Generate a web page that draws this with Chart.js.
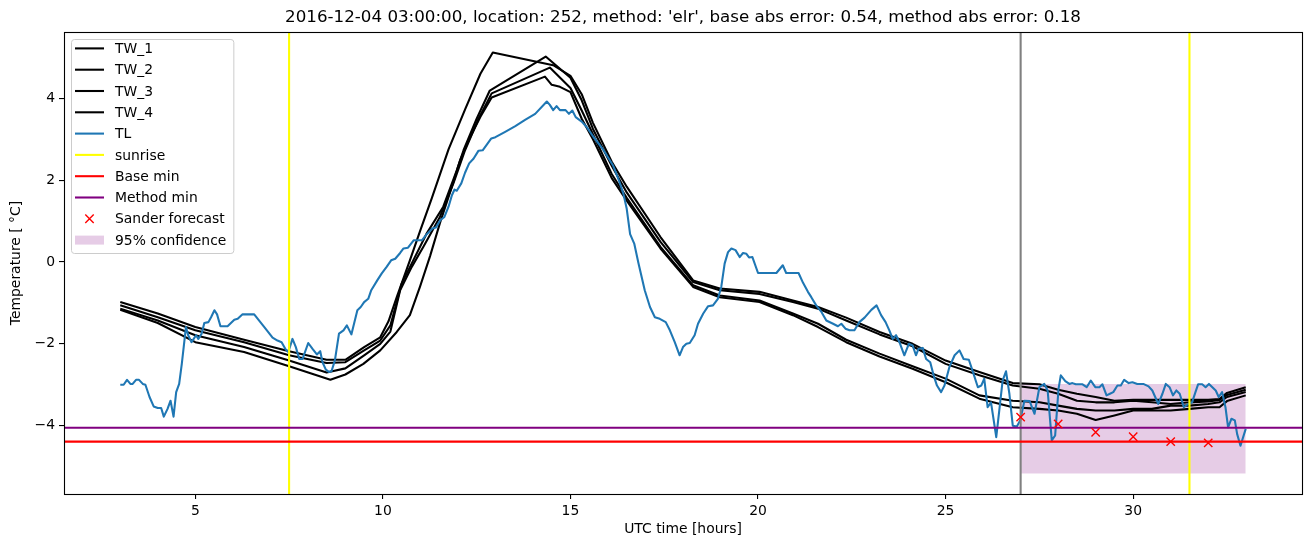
<!DOCTYPE html>
<html>
<head>
<meta charset="utf-8">
<script src="https://cdn.jsdelivr.net/npm/chart.js@4.4.0/dist/chart.umd.min.js"></script>
<style>
body { margin: 0; background: #fff; }
canvas { display: block; }
</style>
</head>
<body>
<canvas id="myChart" width="1313" height="547"></canvas>
<script>
// Axis limits and ticks
const xLimits = [1.5, 34.5];
const yLimits = [-5.67, 5.62];
const xTicks = [5, 10, 15, 20, 25, 30];
const yTicks = [-4, -2, 0, 2, 4];

const titleText = "2016-12-04 03:00:00, location: 252, method: 'elr', base abs error: 0.54, method abs error: 0.18";

// TL (measured temperature)
const tlHours = [
  3.0, 3.09, 3.18, 3.27, 3.33, 3.42, 3.5, 3.6, 3.67, 3.78,
  3.89, 4.0, 4.09, 4.16, 4.26, 4.34, 4.42, 4.49, 4.57, 4.64,
  4.71, 4.75, 4.81, 4.9, 5.02, 5.08, 5.17, 5.24, 5.35, 5.42,
  5.51, 5.58, 5.67, 5.86, 5.95, 6.04, 6.13, 6.26, 6.57, 6.84,
  7.06, 7.19, 7.3, 7.41, 7.48, 7.59, 7.68, 7.77, 7.86, 8.01,
  8.12, 8.24, 8.33, 8.39, 8.48, 8.57, 8.63, 8.72, 8.83, 8.95,
  9.04, 9.16, 9.32, 9.41, 9.5, 9.61, 9.69, 9.85, 9.97, 10.1,
  10.22, 10.33, 10.46, 10.55, 10.67, 10.82, 11.04, 11.17, 11.32, 11.41,
  11.53, 11.64, 11.75, 11.84, 11.91, 11.97, 12.09, 12.19, 12.3, 12.42,
  12.55, 12.66, 12.78, 12.89, 13.0, 13.26, 13.53, 13.79, 14.06, 14.37,
  14.45, 14.54, 14.63, 14.72, 14.87, 14.96, 15.05, 15.14, 15.3, 15.43,
  15.61, 15.87, 16.14, 16.29, 16.41, 16.5, 16.59, 16.7, 16.81, 16.98,
  17.12, 17.25, 17.38, 17.54, 17.65, 17.78, 17.91, 18.0, 18.09, 18.18,
  18.31, 18.4, 18.54, 18.67, 18.8, 18.93, 19.02, 19.11, 19.2, 19.29,
  19.4, 19.51, 19.6, 19.69, 19.76, 19.85, 20.0, 20.49, 20.66, 20.75,
  21.08, 21.2, 21.33, 21.42, 21.55, 21.69, 21.82, 22.0, 22.13, 22.22,
  22.33, 22.44, 22.57, 22.7, 22.84, 23.02, 23.16, 23.28, 23.4, 23.5,
  23.59, 23.68, 23.77, 23.9, 24.02, 24.12, 24.21, 24.28, 24.39, 24.48,
  24.59, 24.68, 24.77, 24.88, 24.97, 25.1, 25.24, 25.37, 25.48, 25.62,
  25.73, 25.86, 25.95, 26.03, 26.12, 26.21, 26.35, 26.43, 26.52, 26.61,
  26.7, 26.79, 26.9, 26.99, 27.1, 27.24, 27.37, 27.5, 27.63, 27.72,
  27.83, 27.92, 28.01, 28.07, 28.19, 28.3, 28.38, 28.47, 28.65, 28.76,
  28.87, 28.99, 29.1, 29.18, 29.29, 29.38, 29.47, 29.58, 29.67, 29.76,
  29.88, 29.98, 30.11, 30.27, 30.41, 30.51, 30.67, 30.78, 30.87, 30.97,
  31.06, 31.15, 31.24, 31.35, 31.47, 31.57, 31.66, 31.73, 31.84, 31.93,
  32.02, 32.2, 32.28, 32.37, 32.46, 32.53, 32.62, 32.71, 32.77, 32.86,
  33.0
];
const tlTemp = [
  -3.0, -3.0, -2.88, -2.98, -2.98, -2.88, -2.88, -2.98, -3.0, -3.3,
  -3.53, -3.57, -3.57, -3.78, -3.59, -3.39, -3.78, -3.18, -2.98, -2.49,
  -1.92, -1.59, -1.79, -1.96, -1.79, -1.88, -1.75, -1.49, -1.47, -1.35,
  -1.18, -1.28, -1.57, -1.57, -1.49, -1.41, -1.39, -1.28, -1.28, -1.59,
  -1.85, -1.92, -1.96, -2.14, -2.2, -1.88, -2.08, -2.37, -2.37, -1.98,
  -2.12, -2.26, -2.18, -2.45, -2.63, -2.69, -2.67, -2.41, -1.75, -1.67,
  -1.55, -1.77, -1.18, -1.1, -0.98, -0.9, -0.69, -0.45, -0.28, -0.12,
  0.04, 0.08, 0.22, 0.33, 0.35, 0.53, 0.53, 0.68, 0.82, 0.84,
  1.02, 1.1, 1.35, 1.63, 1.77, 1.74, 1.92, 2.18, 2.41, 2.53,
  2.72, 2.73, 2.88, 3.02, 3.05, 3.18, 3.32, 3.47, 3.62, 3.92,
  3.84, 3.71, 3.81, 3.71, 3.71, 3.62, 3.7, 3.54, 3.43, 3.3,
  3.06, 2.75, 2.35, 2.0, 1.67, 1.3, 0.68, 0.45, -0.02, -0.69,
  -1.1, -1.35, -1.39, -1.47, -1.67, -1.96, -2.28, -2.08, -2.0, -1.98,
  -1.79, -1.51, -1.26, -1.08, -1.06, -0.9, -0.61, -0.04, 0.24, 0.33,
  0.29, 0.12, 0.22, 0.2, 0.11, 0.12, -0.27, -0.27, -0.08, -0.27,
  -0.27, -0.51, -0.73, -0.86, -1.06, -1.22, -1.43, -1.51, -1.57, -1.51,
  -1.63, -1.67, -1.67, -1.47, -1.36, -1.17, -1.06, -1.3, -1.47, -1.67,
  -1.88, -1.79, -1.96, -2.28, -2.0, -2.04, -2.28, -2.12, -2.1, -2.37,
  -2.45, -2.77, -3.02, -3.18, -3.02, -2.57, -2.28, -2.16, -2.37, -2.39,
  -2.69, -3.06, -3.02, -2.85, -3.55, -3.43, -4.28, -3.63, -2.9, -2.67,
  -3.22, -4.0, -4.02, -3.87, -3.39, -3.4, -3.71, -3.06, -2.98, -3.14,
  -4.36, -4.24, -3.1, -2.77, -2.91, -2.98, -2.96, -2.99, -2.99, -3.06,
  -2.9, -3.06, -3.06, -2.99, -3.26, -3.22, -3.18, -3.02, -3.02, -2.88,
  -2.96, -2.94, -2.98, -2.98, -3.04, -3.14, -3.47, -3.22, -2.98, -3.06,
  -3.26, -3.14, -3.22, -3.55, -3.47, -3.43, -3.18, -2.99, -2.99, -3.06,
  -2.98, -3.14, -3.3, -3.18, -3.55, -4.04, -3.83, -3.87, -4.2, -4.49,
  -4.08
];

// TW_1 .. TW_4 (black model lines)
const tw1Hours = [3, 4, 5, 6.3, 7.5, 8.5, 9.0, 9.5, 9.93, 10.15,
  10.37, 10.72, 11.0, 11.3, 11.75, 12.2, 12.6, 12.93, 14.54, 15.0,
  15.3, 15.6, 16.1, 16.5, 17.4, 18.27, 18.98, 20.04, 20.93, 21.6,
  22.35, 23.24, 24.12, 25.0, 25.9, 26.79, 27.5, 28, 28.5, 29,
  29.5, 30, 30.5, 31, 31.5, 32, 32.3, 32.5, 33];
const tw1Temp = [-0.98, -1.26, -1.59, -1.9, -2.18, -2.39, -2.39, -2.08, -1.84, -1.45,
  -0.86, 0.04, 0.78, 1.55, 2.75, 3.75, 4.6, 5.12, 4.81, 4.55,
  4.1, 3.4, 2.45, 1.84, 0.61, -0.45, -0.65, -0.73, -0.94, -1.1,
  -1.36, -1.71, -2.0, -2.41, -2.69, -2.96, -2.99, -3.12, -3.22, -3.3,
  -3.39, -3.37, -3.37, -3.37, -3.37, -3.37, -3.35, -3.2, -3.06];

const tw2Hours = [3, 4, 5, 6.3, 7.5, 8.5, 9.0, 9.5, 9.93, 10.2,
  10.5, 10.81, 11.17, 11.61, 11.97, 12.15, 12.5, 12.85, 14.34, 15.0,
  15.3, 15.6, 16.1, 16.5, 17.4, 18.27, 18.98, 20.04, 20.93, 21.6,
  22.35, 23.24, 24.12, 25.0, 25.9, 26.79, 27.5, 28, 28.5, 29,
  29.5, 30, 30.5, 31, 31.5, 32, 32.3, 32.5, 33];
const tw2Temp = [-1.06, -1.35, -1.67, -1.96, -2.28, -2.47, -2.45, -2.16, -1.92, -1.55,
  -0.53, 0.04, 0.7, 1.35, 2.24, 2.73, 3.5, 4.19, 5.02, 4.5,
  3.95, 3.25, 2.35, 1.7, 0.49, -0.49, -0.69, -0.78, -0.98, -1.14,
  -1.43, -1.77, -2.06, -2.49, -2.77, -3.02, -3.1, -3.22, -3.39, -3.43,
  -3.43, -3.39, -3.43, -3.47, -3.43, -3.41, -3.37, -3.25, -3.12];

const tw3Hours = [3, 4, 5, 6.3, 7.5, 8.5, 9.0, 9.5, 9.93, 10.2,
  10.46, 10.77, 11.08, 11.52, 11.88, 12.19, 12.55, 12.9, 14.45, 15.0,
  15.3, 15.6, 16.1, 16.5, 17.4, 18.27, 18.98, 20.04, 20.93, 21.6,
  22.35, 23.24, 24.12, 25.0, 25.9, 26.79, 27.5, 28, 28.5, 29,
  29.5, 30, 30.5, 31, 31.5, 32, 32.3, 32.5, 33];
const tw3Temp = [-1.14, -1.43, -1.79, -2.08, -2.41, -2.7, -2.6, -2.28, -2.0, -1.7,
  -0.69, -0.12, 0.37, 1.1, 1.92, 2.73, 3.5, 4.12, 4.75, 4.25,
  3.7, 3.12, 2.15, 1.57, 0.37, -0.57, -0.82, -0.94, -1.26, -1.51,
  -1.9, -2.24, -2.55, -2.85, -3.26, -3.39, -3.43, -3.51, -3.59, -3.63,
  -3.63, -3.59, -3.59, -3.51, -3.51, -3.47, -3.43, -3.3, -3.18];

const tw4Hours = [3, 4, 5, 6.3, 7.5, 8.6, 9.0, 9.48, 9.93, 10.37,
  10.72, 10.99, 11.26, 11.52, 11.79, 12.06, 12.3, 12.6, 12.9, 14.32,
  14.5, 14.72, 15.0, 15.3, 15.6, 16.1, 16.5, 17.4, 18.27, 18.98,
  20.04, 20.93, 21.6, 22.35, 23.24, 24.12, 25.0, 25.9, 26.79, 27.5,
  28, 28.5, 29, 29.5, 30, 30.5, 31, 31.5, 32, 32.3,
  32.5, 33];
const tw4Temp = [-1.17, -1.49, -1.96, -2.2, -2.55, -2.88, -2.75, -2.49, -2.16, -1.71,
  -1.3, -0.6, 0.15, 0.95, 1.7, 2.49, 3.0, 3.55, 4.02, 4.53,
  4.33, 4.28, 4.15, 3.5, 3.0, 2.05, 1.5, 0.33, -0.61, -0.86,
  -0.98, -1.3, -1.59, -1.96, -2.31, -2.61, -2.94, -3.34, -3.55, -3.59,
  -3.63, -3.71, -3.86, -3.75, -3.63, -3.63, -3.63, -3.59, -3.55, -3.55,
  -3.4, -3.26];

// Markers and reference lines
const sunriseHours = [7.5, 31.5];
const forecastStart = 27;
const baseMin = -4.39;
const methodMin = -4.05;
const sanderHours = [27, 28, 29, 30, 31, 32];
const sanderTemp = [-3.79, -3.96, -4.16, -4.27, -4.39, -4.42];
const confHours = [27, 33];
const confUpper = -2.98;
const confLower = -5.17;

const FONT = 'DejaVu Sans';
const LW = 2.08; // 1.5 pt at 100 dpi
Chart.defaults.font.family = FONT;
Chart.defaults.color = '#000';

const pts = (xs, ys) => xs.map((x, i) => ({ x: x, y: ys[i] }));
const vLines = xs => xs.flatMap((x, i) => {
  const seg = [{ x: x, y: yLimits[0] - 1 }, { x: x, y: yLimits[1] + 1 }];
  return i < xs.length - 1 ? seg.concat([{ x: x, y: null }]) : seg;
});
const hLine = y => [{ x: xLimits[0] - 1, y: y }, { x: xLimits[1] + 1, y: y }];

function lineSet(label, data, color, order) {
  return {
    label: label, data: data, borderColor: color, backgroundColor: color,
    borderWidth: LW, pointRadius: 0, pointHoverRadius: 0, fill: false,
    borderJoinStyle: 'round', spanGaps: false, order: order, kind: 'line'
  };
}

const datasets = [
  lineSet('TW_1', pts(tw1Hours, tw1Temp), '#000000', 4),
  lineSet('TW_2', pts(tw2Hours, tw2Temp), '#000000', 5),
  lineSet('TW_3', pts(tw3Hours, tw3Temp), '#000000', 6),
  lineSet('TW_4', pts(tw4Hours, tw4Temp), '#000000', 7),
  lineSet('TL', pts(tlHours, tlTemp), '#1f77b4', 3),
  lineSet('sunrise', vLines(sunriseHours), '#ffff00', 2),
  lineSet('Base min', hLine(baseMin), '#ff0000', 1),
  lineSet('Method min', hLine(methodMin), '#800080', 1),
  {
    label: 'Sander forecast', data: pts(sanderHours, sanderTemp), showLine: false,
    pointStyle: 'crossRot', pointRadius: 5.9, pointHoverRadius: 5.9,
    pointBorderColor: '#ff0000', pointBackgroundColor: '#ff0000', pointBorderWidth: 1.4,
    borderColor: '#ff0000', order: 0, kind: 'marker'
  },
  {
    label: '95% confidence', data: confHours.map(x => ({ x: x, y: confUpper })),
    borderColor: 'rgba(0,0,0,0)', borderWidth: 0, pointRadius: 0, pointHoverRadius: 0,
    backgroundColor: 'rgba(128,0,128,0.2)', fill: { value: confLower }, order: 9, kind: 'patch'
  },
  Object.assign(lineSet('forecast start', vLines([forecastStart]), '#808080', 2), { noLegend: true })
];

// title, axes frame and matplotlib-style legend
const decorations = {
  id: 'decorations',
  afterDraw(chart) {
    const ctx = chart.ctx;
    const a = chart.chartArea;
    ctx.save();

    ctx.fillStyle = '#000';
    ctx.font = '16.7px "' + FONT + '"';
    ctx.textAlign = 'center';
    ctx.textBaseline = 'middle';
    ctx.fillText(titleText, (a.left + a.right) / 2, 18);

    ctx.strokeStyle = '#000';
    ctx.lineWidth = 1.1;
    ctx.strokeRect(a.left + 0.5, a.top + 0.5, a.right - a.left, a.bottom - a.top);

    const items = chart.data.datasets.filter(d => !d.noLegend);
    ctx.font = '13.9px "' + FONT + '"';
    const textW = Math.max(...items.map(d => ctx.measureText(d.label).width));
    const bx = a.left + 7, by = a.top + 7;
    const rowH = 21.3, firstRow = by + 9.4;
    const hx0 = bx + 4, hx1 = bx + 33, tx = bx + 44;
    const bw = tx + textW + 7 - bx, bh = rowH * items.length + 1;

    ctx.beginPath();
    ctx.roundRect(bx + 0.5, by + 0.5, bw, bh, 3);
    ctx.fillStyle = 'rgba(255,255,255,0.8)';
    ctx.fill();
    ctx.strokeStyle = '#cccccc';
    ctx.lineWidth = 1;
    ctx.stroke();

    items.forEach((d, i) => {
      const y = firstRow + rowH * i;
      if (d.kind === 'line') {
        ctx.strokeStyle = d.borderColor;
        ctx.lineWidth = LW;
        ctx.beginPath();
        ctx.moveTo(hx0, y);
        ctx.lineTo(hx1, y);
        ctx.stroke();
      } else if (d.kind === 'marker') {
        const cx = (hx0 + hx1) / 2, r = 4.2;
        ctx.strokeStyle = d.pointBorderColor;
        ctx.lineWidth = 1.4;
        ctx.beginPath();
        ctx.moveTo(cx - r, y - r); ctx.lineTo(cx + r, y + r);
        ctx.moveTo(cx - r, y + r); ctx.lineTo(cx + r, y - r);
        ctx.stroke();
      } else {
        ctx.fillStyle = d.backgroundColor;
        ctx.fillRect(hx0, y - 4.5, hx1 - hx0, 9);
      }
      ctx.fillStyle = '#000';
      ctx.textAlign = 'left';
      ctx.textBaseline = 'middle';
      ctx.fillText(d.label, tx, y + 1);
    });
    ctx.restore();
  }
};

const tickGrid = { display: true, drawOnChartArea: false, drawTicks: true, tickLength: 5, tickWidth: 1.1, color: '#000', tickColor: '#000', lineWidth: 1.1 };
const minusFmt = v => (v < 0 ? '\u2212' + Math.abs(v) : String(v));

new Chart(document.getElementById('myChart').getContext('2d'), {
  type: 'line',
  data: { datasets: datasets },
  options: {
    responsive: false,
    animation: false,
    devicePixelRatio: 1,
    layout: { padding: { top: 32, right: 11, bottom: 0, left: 0 } },
    plugins: { legend: { display: false }, title: { display: false }, tooltip: { enabled: false } },
    scales: {
      x: {
        type: 'linear', min: xLimits[0], max: xLimits[1],
        afterBuildTicks: s => { s.ticks = xTicks.map(v => ({ value: v })); },
        afterFit: s => { s.height = 53; },
        grid: tickGrid, border: { display: false },
        ticks: { font: { size: 13.9 }, padding: 4, maxRotation: 0, color: '#000', callback: minusFmt },
        title: { display: true, text: 'UTC time [hours]', font: { size: 13.9 }, color: '#000', padding: { top: 0, bottom: 9 } }
      },
      y: {
        type: 'linear', min: yLimits[0], max: yLimits[1],
        afterBuildTicks: s => { s.ticks = yTicks.map(v => ({ value: v })); },
        afterFit: s => { s.width = 64; },
        grid: tickGrid, border: { display: false },
        ticks: { font: { size: 13.9 }, padding: 4, color: '#000', callback: minusFmt },
        title: { display: true, text: 'Temperature [ \u00b0C]', font: { size: 13.9 }, color: '#000', padding: { top: 8.4, bottom: 0 } }
      }
    }
  },
  plugins: [decorations]
});
</script>
</body>
</html>
